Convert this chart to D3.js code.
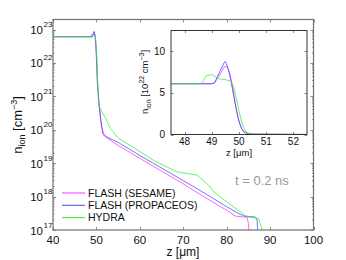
<!DOCTYPE html>
<html>
<head>
<meta charset="utf-8">
<script src="https://cdn.jsdelivr.net/npm/d3@7"></script>
<style>
  body { margin: 0; background: #fff; }
  text { font-family: "Liberation Sans", Arial, sans-serif; }
</style>
</head>
<body>
<div id="chart"></div>
<script>
// Chart size
var svgWidth = 346;
var svgHeight = 260;

// Series names and colours
var seriesNames = ["FLASH (SESAME)", "FLASH (PROPACEOS)", "HYDRA"];
var seriesColors = ["#ff33ff", "#4848ff", "#33f033"];

// Main plot: z [um] and n_ion [cm^-3]
var sesameZ = [40, 49.0, 49.3, 49.5, 49.7, 49.9, 50.0, 50.2, 50.4, 50.6, 50.9, 51.2, 51.6, 52.5, 55, 60, 65, 70, 75, 80, 82.0, 84.7, 85.0, 85.3];
var sesameN = [6.1e22, 6.1e22, 7.6e22, 8.2e22, 6.5e22, 3e22, 1.5e22, 4e21, 1.5e21, 6e20, 2.5e20, 1.2e20, 6.9e19, 5.6e19, 3.4e19, 1.4e19, 5.8e18, 2.4e18, 9.5e17, 3.9e17, 2.6e17, 2.4e17, 1.6e17, 5e16];
var propZ = [40, 49.0, 49.3, 49.5, 49.7, 49.9, 50.0, 50.2, 50.4, 50.6, 50.9, 51.2, 51.6, 52.5, 55, 60, 65, 70, 75, 80, 82.4, 84.0, 86.6, 87.0, 87.3];
var propN = [6.1e22, 6.1e22, 7.6e22, 8.8e22, 6.5e22, 3e22, 1.6e22, 2.5e21, 1.4e21, 6e20, 2.6e20, 1.3e20, 7.6e19, 6e19, 4.2e19, 1.7e19, 7.2e18, 3e18, 1.25e18, 5e17, 3.3e17, 2.6e17, 2.45e17, 2e17, 5e16];
var hydraZ = [40, 48.6, 48.8, 49.0, 49.3, 49.7, 49.9, 50.1, 50.3, 50.5, 51.2, 52.0, 53.2, 55.1, 58.9, 63.1, 68.5, 73.2, 75.8, 77.4, 81.5, 84.7, 87.3, 88.2, 88.4];
var hydraN = [6.1e22, 6.1e22, 7e22, 7.2e22, 6.7e22, 6.4e22, 4.4e22, 1.5e22, 2.5e21, 5.4e20, 3.6e20, 2.4e20, 1.1e20, 5.5e19, 2.75e19, 1.23e19, 5.5e18, 4.4e18, 2.2e18, 1.26e18, 5e17, 2.5e17, 2.24e17, 1e17, 5e16];

// Inset: z [um] and n_ion [10^22 cm^-3]
var insetSesameZ = [47.5, 49.0, 49.1, 49.3, 49.45, 49.55, 49.65, 49.75, 49.85, 49.95, 50.05, 50.15, 50.3, 50.6, 52.5];
var insetSesameN = [6.1, 6.1, 6.2, 7.2, 8.1, 8.2, 7.5, 6.0, 4.0, 2.2, 1.0, 0.4, 0.1, 0.03, 0];
var insetPropZ = [47.5, 49.0, 49.1, 49.3, 49.45, 49.5, 49.6, 49.7, 49.8, 49.9, 50.0, 50.1, 50.2, 50.4, 52.5];
var insetPropN = [6.1, 6.1, 6.2, 7.6, 8.6, 8.8, 7.9, 6.5, 4.7, 3.0, 1.6, 0.7, 0.25, 0.05, 0];
var insetHydraZ = [47.5, 48.6, 48.7, 48.8, 49.0, 49.1, 49.25, 49.5, 49.7, 49.8, 49.9, 50.0, 50.1, 50.2, 50.3, 50.5, 52.5];
var insetHydraN = [6.1, 6.1, 6.5, 7.1, 7.2, 7.0, 6.7, 6.6, 6.4, 5.8, 4.4, 2.8, 1.5, 0.6, 0.2, 0.05, 0.02];

// Tick values
var xTicks = [40, 50, 60, 70, 80, 90, 100];
var yExponents = [17, 18, 19, 20, 21, 22, 23];
var insetXTicks = [48, 49, 50, 51, 52];
var insetYTicks = [0, 5, 10];

var mainSeries = [[sesameZ, sesameN], [propZ, propN], [hydraZ, hydraN]];
var insetSeries = [[insetSesameZ, insetSesameN], [insetPropZ, insetPropN], [insetHydraZ, insetHydraN]];

var svg = d3.select("#chart").append("svg")
  .attr("width", svgWidth)
  .attr("height", svgHeight);

// ---------- main axes ----------
var plot = { left: 53, top: 19.5, right: 313.5, bottom: 230 };

var xScale = d3.scaleLinear().domain([40, 100]).range([plot.left, plot.right]);
var yScale = d3.scaleLog().domain([1e17, 2e23]).range([plot.bottom, plot.top]);

svg.append("clipPath").attr("id", "mainclip")
  .append("rect")
  .attr("x", plot.left).attr("y", plot.top)
  .attr("width", plot.right - plot.left).attr("height", plot.bottom - plot.top);

var majorY = yExponents.map(function(e) { return Math.pow(10, e); });
var minorY = [];
yExponents.forEach(function(e) {
  for (var m = 2; m <= 9; m++) {
    var v = m * Math.pow(10, e);
    if (v <= 2e23) minorY.push(v);
  }
});

var frameColor = "#707070";

// tick marks (inward, all four sides)
var ticksG = svg.append("g").attr("stroke", frameColor).attr("stroke-width", 0.8);
xTicks.forEach(function(t) {
  var x = Math.round(xScale(t)) + 0.5;
  ticksG.append("line").attr("x1", x).attr("x2", x).attr("y1", plot.bottom).attr("y2", plot.bottom - 3);
  ticksG.append("line").attr("x1", x).attr("x2", x).attr("y1", plot.top).attr("y2", plot.top + 3);
});
majorY.forEach(function(v) {
  var y = Math.round(yScale(v)) + 0.5;
  ticksG.append("line").attr("x1", plot.left).attr("x2", plot.left + 3).attr("y1", y).attr("y2", y);
  ticksG.append("line").attr("x1", plot.right).attr("x2", plot.right - 3).attr("y1", y).attr("y2", y);
});
minorY.forEach(function(v) {
  var y = yScale(v);
  ticksG.append("line").attr("x1", plot.left).attr("x2", plot.left + 1.5).attr("y1", y).attr("y2", y);
  ticksG.append("line").attr("x1", plot.right).attr("x2", plot.right - 1.5).attr("y1", y).attr("y2", y);
});

// curves
var mainLine = d3.line()
  .x(function(d) { return xScale(d[0]); })
  .y(function(d) { return yScale(d[1]); });

var curvesG = svg.append("g").attr("clip-path", "url(#mainclip)");
mainSeries.forEach(function(s, i) {
  var pts = s[0].map(function(z, k) { return [z, s[1][k]]; });
  curvesG.append("path")
    .datum(pts)
    .attr("d", mainLine)
    .attr("fill", "none")
    .attr("stroke", seriesColors[i])
    .attr("stroke-width", 0.9)
    .attr("stroke-opacity", 0.85);
});

// frame
svg.append("rect")
  .attr("x", plot.left).attr("y", plot.top)
  .attr("width", plot.right - plot.left).attr("height", plot.bottom - plot.top)
  .attr("fill", "none").attr("stroke", frameColor).attr("stroke-width", 1.2);

// x tick labels
svg.append("g").selectAll("text")
  .data(xTicks)
  .enter().append("text")
  .attr("x", function(d) { return xScale(d); })
  .attr("y", 244)
  .attr("text-anchor", "middle")
  .attr("font-size", 11.5)
  .attr("fill", "#111")
  .text(function(d) { return d; });

// y tick labels 10^n
yExponents.forEach(function(e) {
  var y = yScale(Math.pow(10, e));
  svg.append("text")
    .attr("x", 43)
    .attr("y", y + 4.5)
    .attr("text-anchor", "end")
    .attr("font-size", 11.5)
    .attr("fill", "#111")
    .text("10");
  svg.append("text")
    .attr("x", 43.5)
    .attr("y", y - 2.5)
    .attr("font-size", 8)
    .attr("fill", "#111")
    .text(e);
});

// axis titles
svg.append("text")
  .attr("x", 183)
  .attr("y", 256)
  .attr("text-anchor", "middle")
  .attr("font-size", 12)
  .attr("fill", "#111")
  .text("z [\u03bcm]");

var yTitle = svg.append("text")
  .attr("transform", "translate(22,125) rotate(-90)")
  .attr("text-anchor", "middle")
  .attr("font-size", 13)
  .attr("fill", "#111");
yTitle.append("tspan").text("n");
yTitle.append("tspan").attr("font-size", 9).attr("dy", 3).text("ion");
yTitle.append("tspan").attr("dy", -3).text(" [cm");
yTitle.append("tspan").attr("font-size", 9).attr("dy", -5).text("\u22123");
yTitle.append("tspan").attr("dy", 5).text("]");

// legend
var legend = svg.append("g");
seriesNames.forEach(function(name, i) {
  var y = 193 + i * 12.3;
  legend.append("line")
    .attr("x1", 62).attr("x2", 85)
    .attr("y1", y).attr("y2", y)
    .attr("stroke", seriesColors[i]).attr("stroke-width", 1);
  legend.append("text")
    .attr("x", 88).attr("y", y + 3.8)
    .attr("font-size", 10.5)
    .attr("fill", "#111")
    .text(name);
});

// time annotation
svg.append("text")
  .attr("x", 235)
  .attr("y", 185)
  .attr("font-size", 13)
  .attr("fill", "#999")
  .text("t = 0.2 ns");

// ---------- inset ----------
var inset = { left: 171, top: 30.5, right: 307, bottom: 134.5 };
var ixScale = d3.scaleLinear().domain([47.5, 52.5]).range([inset.left, inset.right]);
var iyScale = d3.scaleLinear().domain([0, 12.5]).range([inset.bottom, inset.top]);

svg.append("rect")
  .attr("x", inset.left).attr("y", inset.top)
  .attr("width", inset.right - inset.left).attr("height", inset.bottom - inset.top)
  .attr("fill", "#fff");

svg.append("clipPath").attr("id", "insetclip")
  .append("rect")
  .attr("x", inset.left).attr("y", inset.top)
  .attr("width", inset.right - inset.left).attr("height", inset.bottom - inset.top);

var insetLine = d3.line()
  .x(function(d) { return ixScale(d[0]); })
  .y(function(d) { return iyScale(d[1]); });

var insetCurves = svg.append("g").attr("clip-path", "url(#insetclip)");
insetSeries.forEach(function(s, i) {
  var pts = s[0].map(function(z, k) { return [z, s[1][k]]; });
  insetCurves.append("path")
    .datum(pts)
    .attr("d", insetLine)
    .attr("fill", "none")
    .attr("stroke", seriesColors[i])
    .attr("stroke-width", 0.9)
    .attr("stroke-opacity", 0.85);
});

var iTicks = svg.append("g").attr("stroke", "#666").attr("stroke-width", 0.8);
insetXTicks.forEach(function(t) {
  var x = Math.round(ixScale(t)) + 0.5;
  iTicks.append("line").attr("x1", x).attr("x2", x).attr("y1", inset.bottom).attr("y2", inset.bottom - 2.5);
  iTicks.append("line").attr("x1", x).attr("x2", x).attr("y1", inset.top).attr("y2", inset.top + 2.5);
});
insetYTicks.forEach(function(t) {
  var y = Math.round(iyScale(t)) + 0.5;
  iTicks.append("line").attr("x1", inset.left).attr("x2", inset.left + 2.5).attr("y1", y).attr("y2", y);
  iTicks.append("line").attr("x1", inset.right).attr("x2", inset.right - 2.5).attr("y1", y).attr("y2", y);
});

svg.append("rect")
  .attr("x", inset.left).attr("y", inset.top)
  .attr("width", inset.right - inset.left).attr("height", inset.bottom - inset.top)
  .attr("fill", "none").attr("stroke", "#333").attr("stroke-width", 1);

svg.append("g").selectAll("text")
  .data(insetXTicks)
  .enter().append("text")
  .attr("x", function(d) { return ixScale(d); })
  .attr("y", 145)
  .attr("text-anchor", "middle")
  .attr("font-size", 10)
  .attr("fill", "#111")
  .text(function(d) { return d; });

svg.append("g").selectAll("text")
  .data(insetYTicks)
  .enter().append("text")
  .attr("x", 165)
  .attr("y", function(d) { return iyScale(d) + 3.5; })
  .attr("text-anchor", "end")
  .attr("font-size", 10)
  .attr("fill", "#111")
  .text(function(d) { return d; });

svg.append("text")
  .attr("x", ixScale(50))
  .attr("y", 156)
  .attr("text-anchor", "middle")
  .attr("font-size", 9.5)
  .attr("fill", "#111")
  .text("z [\u03bcm]");

var iyTitle = svg.append("text")
  .attr("transform", "translate(148,82) rotate(-90)")
  .attr("text-anchor", "middle")
  .attr("font-size", 9.5)
  .attr("fill", "#111");
iyTitle.append("tspan").text("n");
iyTitle.append("tspan").attr("font-size", 7).attr("dy", 2.5).text("ion");
iyTitle.append("tspan").attr("dy", -2.5).text(" [10");
iyTitle.append("tspan").attr("font-size", 7).attr("dy", -4).text("22");
iyTitle.append("tspan").attr("dy", 4).text(" cm");
iyTitle.append("tspan").attr("font-size", 7).attr("dy", -4).text("\u22123");
iyTitle.append("tspan").attr("dy", 4).text("]");
</script>
</body>
</html>
